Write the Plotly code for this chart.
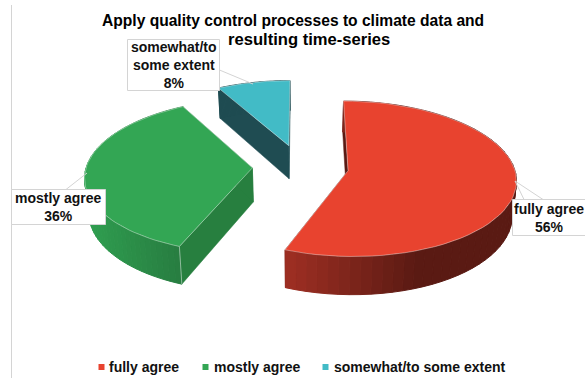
import numpy as np
import plotly.graph_objects as go

categories = ["fully agree", "mostly agree", "somewhat/to some extent"]
values = [56, 36, 8]
top_colors = ["#E8432F", "#33A654", "#42BBC6"]
rim_light = ["#9C2E22", "#2F9E50", "#1F4C52"]
rim_dark = ["#5A1A13", "#277A3F", "#1F4C52"]
cut_colors = ["#5A1A13", "#277F3F", "#1F4C52"]
rim_shade_span = [0.55, 1.0, 1.0]
label_lines = ["somewhat/to<br>some extent<br>8%", "mostly agree<br>36%", "fully agree<br>56%"]
title_lines = ["Apply quality control processes to climate data and", "resulting time-series"]

WIDTH, HEIGHT = 585, 378
TEXT = "#111111"
FONT = "Liberation Sans"

# Projection of the tilted, exploded pie
X0, Y0 = 300.5, 166.5
SCALE_X, SCALE_Y = 166.0, 76.0
PERSPECTIVE = 0.104
EXPLODE = 0.29
DEPTH = 34.0
BASE_SHRINK = 0.98
START_ANGLE = 0.0


def project(u, v):
    w = 1 - PERSPECTIVE * v
    return X0 + SCALE_X * u / w, Y0 + SCALE_Y * v / w, w


def lower(x, y, w):
    return X0 + (x - X0) * BASE_SHRINK, y + DEPTH / w


def polygon(xs, ys, color, line=None, width=1.0):
    return go.Scatter(
        x=list(xs) + [xs[0]], y=list(ys) + [ys[0]], mode="lines", fill="toself",
        fillcolor=color, line=dict(color=line or color, width=width),
        hoverinfo="skip", showlegend=False,
    )


def mix(a, b, t):
    ca = [int(a[i:i + 2], 16) for i in (1, 3, 5)]
    cb = [int(b[i:i + 2], 16) for i in (1, 3, 5)]
    return "rgb(%d,%d,%d)" % tuple(round(p + (q - p) * t) for p, q in zip(ca, cb))


fig = go.Figure()
total = sum(values)
edges = np.radians(START_ANGLE + np.concatenate([[0], np.cumsum(values)]) * 360 / total)

# Back slices first so the nearer ones paint over them
for i in (2, 1, 0):
    a0, a1 = edges[i], edges[i + 1]
    mid = (a0 + a1) / 2
    ou, ov = EXPLODE * np.sin(mid), -EXPLODE * np.cos(mid)
    theta = np.linspace(a0, a1, 60)
    ax, ay, aw = project(ou, ov)
    px, py, pw = project(ou + np.sin(theta), ov - np.cos(theta))
    bx, by = lower(px, py, pw)
    abx, aby = lower(ax, ay, aw)

    # Cut faces sit behind the rim where they meet it
    for k in (0, -1):
        fig.add_trace(polygon([ax, px[k], bx[k], abx], [ay, py[k], by[k], aby], cut_colors[i], width=0.5))

    # Outer rim, shaded left to right
    for j in range(len(theta) - 1):
        span = max(rim_shade_span[i] * np.ptp(px), 1)
        t = np.clip((min(px[j], px[j + 1]) - px.min()) / span, 0, 1)
        color = mix(rim_light[i], rim_dark[i], float(t))
        fig.add_trace(polygon([px[j], px[j + 1], bx[j + 1], bx[j]],
                              [py[j], py[j + 1], by[j + 1], by[j]], color))

    # Highlight on the front corner of the middle slice
    if i == 1:
        fig.add_trace(go.Scatter(x=[px[0], bx[0]], y=[py[0], by[0]], mode="lines",
                                 line=dict(color="rgba(255,255,255,0.6)", width=0.8),
                                 hoverinfo="skip", showlegend=False))

    fig.add_trace(polygon([ax, *px], [ay, *py], top_colors[i], "rgba(255,255,255,0.55)", 0.7))

# Legend row
legend_x = [101.5, 205.5, 325.5]
legend_text_x = [108, 212.5, 333]
fig.add_trace(go.Scatter(
    x=legend_x, y=[367] * 3, mode="markers",
    marker=dict(symbol="square", size=6, color=top_colors),
    hoverinfo="skip", showlegend=False,
))

BORDER = "#D4D4D4"
shapes = [dict(type="line", x0=11.5, x1=11.5, y0=5, y1=378, line=dict(color=BORDER, width=1))]
# Callout boxes: x0, y0, x1, y1, then leader polylines from the box to the slice
boxes = [(127.5, 39.5, 219.5, 90.5), (11.5, 189.5, 105.5, 224.5), (512.5, 199.5, 590, 235.5)]
leaders = [[(219.5, 70), (253, 84)], [(66, 189.5), (87, 173)],
           [(524, 199.5), (515, 181), (543, 199.5)]]
for (x0, y0, x1, y1) in boxes:
    shapes.append(dict(type="rect", x0=x0, y0=y0, x1=x1, y1=y1, fillcolor="white",
                       line=dict(color=BORDER, width=1)))
for pts in leaders:
    path = "M " + " L ".join(f"{x},{y}" for x, y in pts)
    shapes.append(dict(type="path", path=path, line=dict(color=BORDER, width=1)))

bold = dict(family=FONT, size=14, color=TEXT, weight="bold")
annotations = [
    dict(x=(b[0] + min(b[2], 585)) / 2, y=(b[1] + b[3]) / 2, text=t, showarrow=False,
         xref="x", yref="y", align="center", font=bold)
    for b, t in zip(boxes, label_lines)
]
annotations += [
    dict(x=x, y=366.5, text=c, showarrow=False, xref="x", yref="y", xanchor="left",
         xshift=-1, font=bold)
    for x, c in zip(legend_text_x, categories)
]
# Title lines are placed separately: the second sits right of the first's centre
for text, x, y, size in zip(title_lines, (292.5, 309), (20, 39), (15.6, 16.6)):
    annotations.append(dict(x=x, y=y, text=text, showarrow=False, xref="x", yref="y",
                            font=dict(family=FONT, size=size, color="#000000", weight="bold")))

fig.update_layout(
    width=WIDTH, height=HEIGHT, margin=dict(l=0, r=0, t=0, b=0),
    paper_bgcolor="white", plot_bgcolor="white", showlegend=False,
    xaxis=dict(range=[0, WIDTH], visible=False, fixedrange=True),
    yaxis=dict(range=[HEIGHT, 0], visible=False, fixedrange=True),
    shapes=shapes, annotations=annotations,
)
fig.write_html("out.html", config={"displayModeBar": False})
